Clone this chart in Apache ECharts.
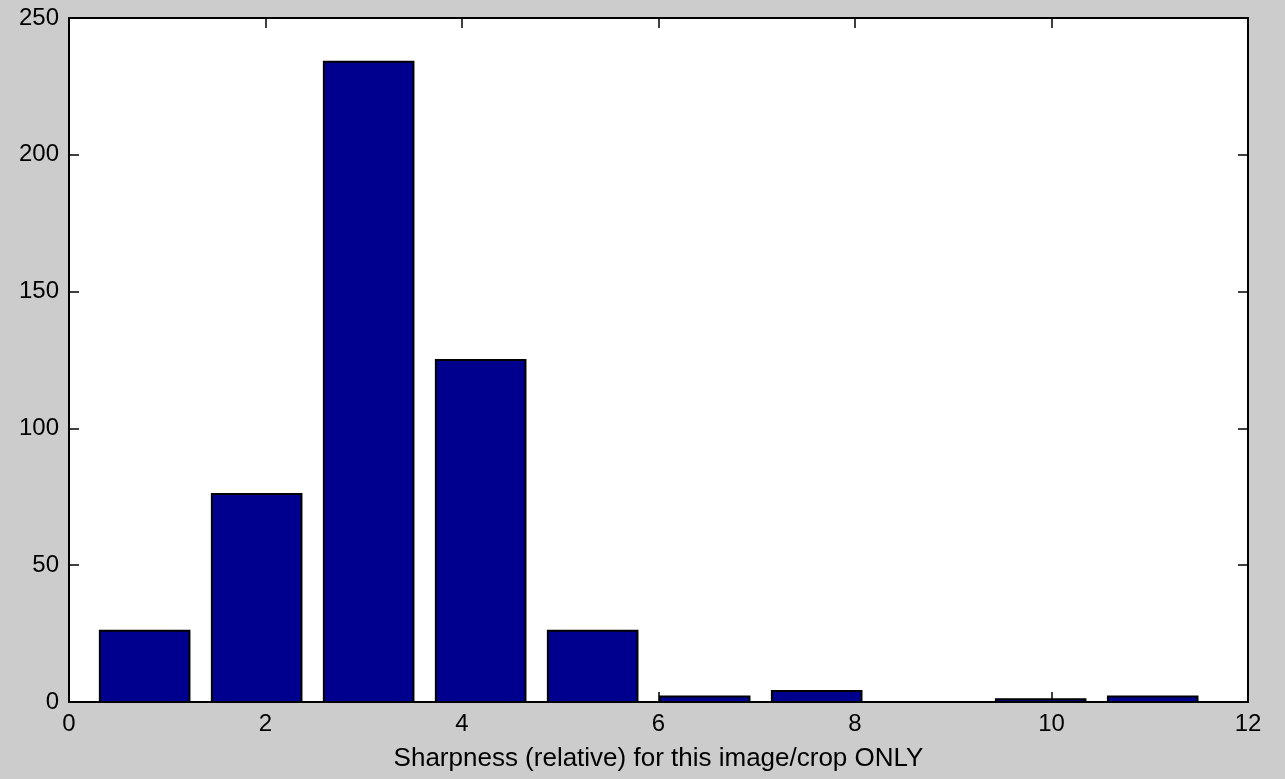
<!DOCTYPE html>
<html>
<head>
<meta charset="utf-8">
<script src="https://cdn.jsdelivr.net/npm/echarts@6/dist/echarts.min.js"></script>
<style>
html,body{margin:0;padding:0;background:#cccccc;}
#chart{width:1285px;height:779px;}
</style>
</head>
<body>
<div id="chart"></div>
<script>
// Bin centers and counts
var binCenters = [0.77, 1.91, 3.05, 4.19, 5.33, 6.47, 7.61, 8.75, 9.89, 11.03];
var counts = [26, 76, 234, 125, 26, 2, 4, 0, 1, 2];
var xTicks = [0, 2, 4, 6, 8, 10, 12];
var yTicks = [0, 50, 100, 150, 200, 250];
var xLabel = 'Sharpness (relative) for this image/crop ONLY';

var barWidthUnits = 0.8 * 1.14;

var data = binCenters.map(function (c, i) { return [c, counts[i]]; });

var FONT = 'Liberation Sans, Arial, sans-serif';
var chart = echarts.init(document.getElementById('chart'), null, {renderer: 'canvas'});

function axisCommon(pos, showLabel, min, max, interval) {
  return {
    type: 'value', position: pos, min: min, max: max, interval: interval,
    axisLine: {show: true, onZero: false, lineStyle: {color: '#000', width: 2}},
    axisTick: {show: true, inside: true, length: 10, lineStyle: {color: '#000', width: 1.5}},
    axisLabel: {show: showLabel, color: '#000', fontFamily: FONT, fontSize: 24, margin: 10},
    splitLine: {show: false}
  };
}

var xBottom = axisCommon('bottom', true, xTicks[0], xTicks[xTicks.length - 1], xTicks[1] - xTicks[0]);
xBottom.name = xLabel;
xBottom.nameLocation = 'middle';
xBottom.nameGap = 44;
xBottom.nameTextStyle = {color: '#000', fontFamily: FONT, fontSize: 26};
var xTop = axisCommon('top', false, xTicks[0], xTicks[xTicks.length - 1], xTicks[1] - xTicks[0]);
var yLeft = axisCommon('left', true, yTicks[0], yTicks[yTicks.length - 1], yTicks[1] - yTicks[0]);
yLeft.axisLabel.padding = [5, 0, 0, 0];
var yRight = axisCommon('right', false, yTicks[0], yTicks[yTicks.length - 1], yTicks[1] - yTicks[0]);

chart.setOption({
  backgroundColor: '#cccccc',
  animation: false,
  grid: {left: 69, right: 37, top: 18, bottom: 77, show: true, backgroundColor: '#ffffff', borderWidth: 0},
  xAxis: [xBottom, xTop],
  yAxis: [yLeft, yRight],
  series: [{
    type: 'custom',
    xAxisIndex: 0,
    yAxisIndex: 0,
    data: data,
    renderItem: function (params, api) {
      var x = api.value(0), y = api.value(1);
      if (y <= 0) { return null; }
      var p0 = api.coord([x - barWidthUnits / 2, 0]);
      var p1 = api.coord([x + barWidthUnits / 2, y]);
      return {
        type: 'rect',
        shape: {x: p0[0], y: p1[1], width: p1[0] - p0[0], height: p0[1] - p1[1]},
        style: {fill: '#00008f', stroke: '#000000', lineWidth: 2}
      };
    },
    z: 1
  }]
});
</script>
</body>
</html>
